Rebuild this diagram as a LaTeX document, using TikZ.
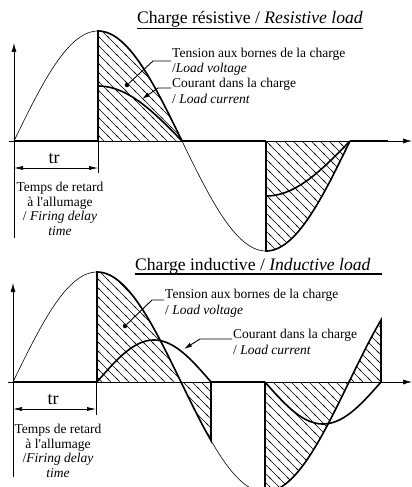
\documentclass[tikz,border=0pt]{standalone}
\usepackage{fontspec}
\setmainfont{Liberation Serif}
\usetikzlibrary{arrows.meta,patterns}
\pgfdeclarepatternformonly{hatchlines}{\pgfqpoint{-1pt}{-1pt}}{\pgfqpoint{10pt}{10pt}}{\pgfqpoint{9pt}{9pt}}{%
  \pgfsetlinewidth{0.5pt}%
  \pgfpathmoveto{\pgfqpoint{0pt}{9pt}}\pgfpathlineto{\pgfqpoint{9pt}{0pt}}%
  \pgfpathmoveto{\pgfqpoint{-1pt}{1pt}}\pgfpathlineto{\pgfqpoint{1pt}{-1pt}}%
  \pgfpathmoveto{\pgfqpoint{8pt}{10pt}}\pgfpathlineto{\pgfqpoint{10pt}{8pt}}%
  \pgfusepath{stroke}}
\newcommand\VT[1]{141-110*sin((#1-14)/168*180)}
\newcommand\IT[1]{141-55*sin((#1-14)/168*180)}
\newcommand\VB[1]{382-110*sin((#1-13)/168*180)}
\newcommand\IB[1]{382-42*sin((#1-97)/114*180)}
\newcommand\IC[1]{382+42*sin((#1-265)/116*180)}
\begin{document}
\begin{tikzpicture}[x=1pt,y=-1pt,
  thinl/.style={line width=0.6pt},
  thickl/.style={line width=1.6pt},
  hatch/.style={pattern=hatchlines},
  axarrow/.style={-{Latex[length=9pt,width=5pt]},line width=0.7pt},
  dimarrow/.style={{Latex[length=9pt,width=4pt]}-{Latex[length=9pt,width=4pt]},line width=0.6pt},
  lbl/.style={font=\fontsize{13.5}{15}\selectfont, inner sep=0pt, anchor=base west},
  ctr/.style={font=\fontsize{13.5}{15}\selectfont, inner sep=0pt, anchor=base},
  trl/.style={font=\fontsize{18}{20}\selectfont, inner sep=0pt, anchor=base},
  ttl/.style={font=\fontsize{17.6}{20}\selectfont, inner sep=0pt, anchor=base west},
  uline/.style={line width=1.1pt},
  leader/.style={line width=0.9pt},
  dotl/.style={circle, fill=black, inner sep=0pt, minimum size=4.5pt},
]
\useasboundingbox (0,0) rectangle (412,487);
\fill[white] (0,0) rectangle (412,487);
\clip (0,0) rectangle (412,487);

% ================= TOP: resistive load =================
\coordinate (ta0) at (9,141);
\coordinate (ta1) at (412,141);
\coordinate (tv0) at (14,238);
\coordinate (tv1) at (14,43);
% hatched regions
\fill[hatch] (98,141) -- plot[domain=98:182,samples=50] (\x,{\VT{\x}}) -- cycle;
\fill[hatch] (266,141) -- plot[domain=266:350,samples=50] (\x,{\VT{\x}}) -- cycle;
% thin sine
\draw[thinl] plot[domain=14:350,samples=150] (\x,{\VT{\x}});
% axes
\draw[axarrow] (ta0) -- (ta1);
\draw[axarrow] (tv0) -- (tv1);
\draw[thickl] (14,141) -- (98,141) (182,141) -- (266,141) (350,141) -- (388,141);
% load voltage
\draw[thickl] (98,141) -- plot[domain=98:182,samples=50] (\x,{\VT{\x}});
\draw[thickl] (266,141) -- plot[domain=266:350,samples=50] (\x,{\VT{\x}});
% load current
\draw[thickl] plot[domain=98:182,samples=50] (\x,{\IT{\x}});
\draw[thickl] plot[domain=266:350,samples=50] (\x,{\IT{\x}});
% dimension tr
\draw[thinl] (98,141) -- (98,173);
\draw[dimarrow] (14,168) -- (98,168);
\node[trl] (tr1) at (54,163) {tr};
\node[ctr] (tp1) at (60,191) {Temps de retard};
\node[ctr] (tp2) at (60,206) {à l\textquotesingle allumage};
\node[ctr] (tp3) at (60,220) {/ \textit{Firing delay}};
\node[ctr] (tp4) at (60,235) {\textit{time}};
% title
\node[ttl] (title1) at (137,24) {Charge résistive / \textit{Resistive load}};
\coordinate (u1a) at (137,28.5);
\coordinate (u1b) at (363,28.5);
\draw[uline] (u1a) -- (u1b);
% labels
\node[lbl] (tens1) at (172,58) {Tension aux bornes de la charge};
\node[lbl] (volt1) at (172,73) {/\textit{Load voltage}};
\node[lbl] (cour1) at (172,88) {Courant dans la charge};
\node[lbl] (curr1) at (172,103) {/ \textit{Load current}};
\node[dotl] (dot1) at (127,85) {};
\coordinate (k1) at (153,61);
\coordinate (k2) at (158,88);
\coordinate (tip1) at (142,99);
\draw[leader] ([xshift=-1pt,yshift=-3pt]tens1.base west) -- (k1) -- (dot1);
\draw[leader,-{Latex[length=8pt,width=4.5pt]}] ([xshift=-1pt]cour1.base west) -- (k2) -- (tip1);

% ================= BOTTOM: inductive load =================
\coordinate (ba0) at (8,382);
\coordinate (ba1) at (412,382);
\coordinate (bv0) at (13,477);
\coordinate (bv1) at (13,283);
% hatched regions
\fill[hatch] (97,382) -- plot[domain=97:211,samples=60] (\x,{\VB{\x}}) -- (211,382) -- cycle;
\fill[hatch] (265,382) -- plot[domain=265:349,samples=50] (\x,{\VB{\x}}) -- cycle;
\fill[hatch] (349,382) -- plot[domain=349:381,samples=30] (\x,{\VB{\x}}) -- (381,382) -- cycle;
% thin sine
\draw[thinl] plot[domain=13:381,samples=160] (\x,{\VB{\x}});
% axes
\draw[axarrow] (ba0) -- (ba1);
\draw[axarrow] (bv0) -- (bv1);
\draw[thickl] (13,382) -- (97,382) (211,382) -- (265,382);
% load voltage
\draw[thickl] (97,382) -- plot[domain=97:211,samples=60] (\x,{\VB{\x}}) -- (211,382);
\draw[thickl] (265,382) -- plot[domain=265:381,samples=60] (\x,{\VB{\x}}) -- (381,382);
% load current
\draw[thickl] plot[domain=97:211,samples=60] (\x,{\IB{\x}});
\draw[thickl] plot[domain=265:381,samples=60] (\x,{\IC{\x}});
% dimension tr
\draw[thinl] (96,382) -- (96,415);
\draw[dimarrow] (13,409) -- (96,409);
\node[trl] (tr2) at (53,404) {tr};
\node[ctr] (bp1) at (58,433) {Temps de retard};
\node[ctr] (bp2) at (58,448) {à l\textquotesingle allumage};
\node[ctr] (bp3) at (58,462) {/\textit{Firing delay}};
\node[ctr] (bp4) at (58,477) {\textit{time}};
% title
\node[ttl] (title2) at (135,270) {Charge inductive / \textit{Inductive load}};
\coordinate (u2a) at (135,274);
\coordinate (u2b) at (382,274);
\draw[uline] (u2a) -- (u2b);
% labels
\node[lbl] (tens2) at (165,298) {Tension aux bornes de la charge};
\node[lbl] (volt2) at (165,314) {/ \textit{Load voltage}};
\node[lbl] (cour2) at (233,338) {Courant dans la charge};
\node[lbl] (curr2) at (233,354) {/ \textit{Load current}};
\node[dotl] (dot2) at (125,326) {};
\coordinate (k3) at (152,300);
\coordinate (k4) at (200,339);
\coordinate (tip2) at (184,349);
\draw[leader] ([xshift=-1pt,yshift=-2pt]tens2.base west) -- (k3) -- (dot2);
\draw[leader,-{Latex[length=8pt,width=4.5pt]}] ([xshift=-1pt,yshift=-1pt]cour2.base west) -- (k4) -- (tip2);
\end{tikzpicture}
\end{document}
